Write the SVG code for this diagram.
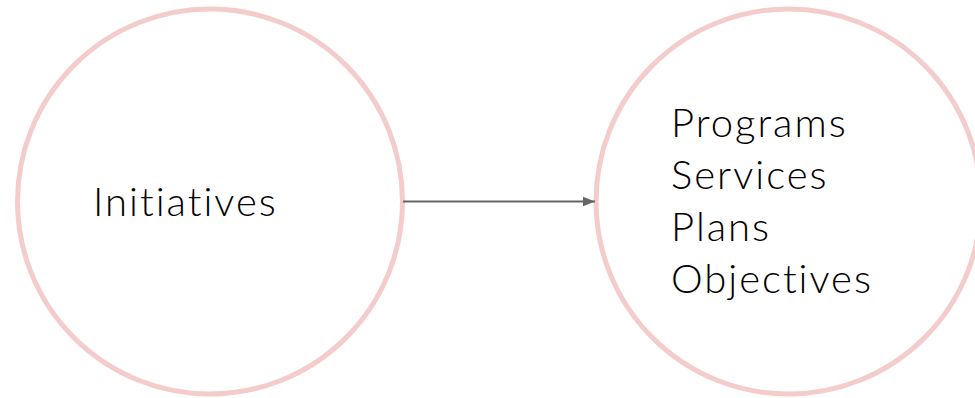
<svg xmlns="http://www.w3.org/2000/svg" width="975" height="398" viewBox="0 0 975 398">
<style>
.node{fill:#ffffff;stroke:#f4cccc;stroke-width:5}
.lbl{font-family:Lato,"Open Sans","Liberation Sans",sans-serif;font-size:40px;font-weight:300;fill:#000000;letter-spacing:2px;font-variant-ligatures:none;font-feature-settings:"liga" 0}
.conn{stroke:#666666;stroke-width:2;fill:none}
</style>
<defs>
<marker id="ah" viewBox="0 0 10 10" refX="10" refY="5" markerWidth="6" markerHeight="6" markerUnits="strokeWidth" orient="auto">
<path d="M0,1 L10,5 L0,9 z" fill="#666666"/>
</marker>
</defs>
<rect width="975" height="398" fill="#ffffff"/>
<g id="initiatives">
<circle class="node" cx="210" cy="201.5" r="192.5"/>
<text class="lbl" x="93" y="216">Initiatives</text>
</g>
<g id="outcomes">
<circle class="node" cx="788.5" cy="201.5" r="192.5"/>
<text class="lbl" x="671" y="137">Programs</text>
<text class="lbl" x="671" y="189">Services</text>
<text class="lbl" x="671" y="241">Plans</text>
<text class="lbl" x="671" y="293">Objectives</text>
</g>
<g id="connectors">
<line class="conn" x1="403" y1="201.5" x2="595" y2="201.5" marker-end="url(#ah)"/>
</g>
</svg>
